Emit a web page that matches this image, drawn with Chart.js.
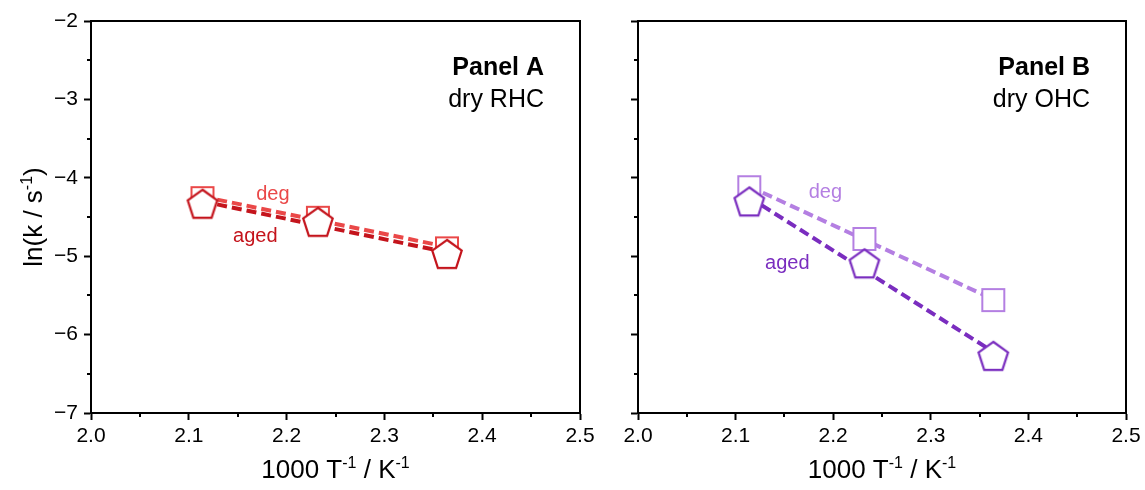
<!DOCTYPE html>
<html>
<head>
<meta charset="utf-8">
<script src="https://cdn.jsdelivr.net/npm/chart.js@4"></script>
<style>
    html, body { margin: 0; padding: 0; background: #fff; }
    #wrap { position: relative; width: 1145px; height: 490px; }
    .panel { position: absolute; top: 0; height: 490px; }
    #panelA { left: 0; width: 600px; }
    #panelB { left: 600px; width: 545px; }
</style>
</head>
<body>
<div id="wrap">
    <div class="panel" id="panelA"><canvas id="chartA"></canvas></div>
    <div class="panel" id="panelB"><canvas id="chartB"></canvas></div>
</div>
<script>
// values
const invTemp = [2.114, 2.232, 2.364];
const rhcDeg = [-4.26, -4.51, -4.90];
const rhcAged = [-4.33, -4.56, -4.97];
const ohcDeg = [-4.12, -4.78, -5.56];
const ohcAged = [-4.30, -5.09, -6.27];

// fitted lines, end points
const fitX = [2.114, 2.364];
const rhcDegFit = [-4.24, -4.88];
const rhcAgedFit = [-4.30, -4.95];
const ohcDegFit = [-4.11, -5.55];
const ohcAgedFit = [-4.25, -6.22];

const xTicks = [2.0, 2.1, 2.2, 2.3, 2.4, 2.5];
const yTicks = [-2, -3, -4, -5, -6, -7];

const FONT = 'Arial, "Liberation Sans", Helvetica, sans-serif';

const colors = {
    rhcDeg: '#ea4848',
    rhcAged: '#c4141c',
    ohcDeg: '#b47fe2',
    ohcAged: '#7a2dbf'
};

// hollow (white filled) marker images
function pentagonMarker(color) {
    const R = 15.5, lw = 2.2;
    const s = Math.ceil(2 * R + lw + 4);
    const c = document.createElement('canvas');
    c.width = s; c.height = s;
    const ctx = c.getContext('2d');
    ctx.translate(s / 2, s / 2 + 1.5);
    ctx.beginPath();
    for (let i = 0; i < 5; i++) {
        const a = (-90 + 72 * i) * Math.PI / 180;
        const px = R * Math.cos(a), py = R * Math.sin(a);
        if (i === 0) ctx.moveTo(px, py); else ctx.lineTo(px, py);
    }
    ctx.closePath();
    ctx.fillStyle = '#fff';
    ctx.fill();
    ctx.lineWidth = lw;
    ctx.lineJoin = 'miter';
    ctx.strokeStyle = color;
    ctx.stroke();
    return c;
}

function squareMarker(color) {
    const side = 22, lw = 2;
    const s = side + lw + 4;
    const c = document.createElement('canvas');
    c.width = s; c.height = s;
    const ctx = c.getContext('2d');
    const o = (s - side) / 2;
    ctx.fillStyle = '#fff';
    ctx.fillRect(o, o, side, side);
    ctx.lineWidth = lw;
    ctx.strokeStyle = color;
    ctx.strokeRect(o, o, side, side);
    return c;
}

function points(xs, ys) {
    return xs.map((x, i) => ({ x: x, y: ys[i] }));
}

function markerSet(ys, color, marker) {
    return {
        data: points(invTemp, ys),
        showLine: false,
        pointStyle: marker,
        pointRadius: 16,
        pointHoverRadius: 16,
        borderColor: color,
        backgroundColor: '#fff'
    };
}

function fitSet(ys, color) {
    return {
        data: points(fitX, ys),
        showLine: true,
        borderColor: color,
        borderWidth: 4,
        borderDash: [10, 5],
        pointRadius: 0,
        pointHoverRadius: 0,
        fill: false
    };
}

// text with superscripts, parts = [[text, isSup], ...]
function drawRichText(ctx, parts, x, y, size) {
    const supSize = Math.round(size * 0.62);
    let total = 0;
    parts.forEach(p => {
        ctx.font = (p[1] ? supSize : size) + 'px ' + FONT;
        total += ctx.measureText(p[0]).width;
    });
    let cx = x - total / 2;
    ctx.textAlign = 'left';
    ctx.textBaseline = 'alphabetic';
    parts.forEach(p => {
        ctx.font = (p[1] ? supSize : size) + 'px ' + FONT;
        ctx.fillText(p[0], cx, p[1] ? y - size * 0.38 : y);
        cx += ctx.measureText(p[0]).width;
    });
}

const decorPlugin = {
    id: 'decor',
    afterDraw(chart, args, opts) {
        const ctx = chart.ctx;
        const area = chart.chartArea;
        const xs = chart.scales.x, ys = chart.scales.y;
        ctx.save();
        ctx.strokeStyle = '#000';
        ctx.lineWidth = 2;
        ctx.strokeRect(area.left, area.top, area.right - area.left, area.bottom - area.top);

        // minor ticks
        ctx.beginPath();
        for (let v = 2.05; v < 2.5; v += 0.1) {
            const px = Math.round(xs.getPixelForValue(v));
            ctx.moveTo(px, area.bottom);
            ctx.lineTo(px, area.bottom + 4);
        }
        for (let v = -2.5; v > -7; v -= 1) {
            const py = Math.round(ys.getPixelForValue(v));
            ctx.moveTo(area.left, py);
            ctx.lineTo(area.left - 4, py);
        }
        ctx.stroke();

        ctx.fillStyle = '#000';
        // x title
        drawRichText(ctx, [['1000 T', false], ['-1', true], [' / K', false], ['-1', true]],
            (area.left + area.right) / 2, 478, 26);
        // y title
        if (opts.yTitle) {
            ctx.save();
            ctx.translate(33, (area.top + area.bottom) / 2);
            ctx.rotate(-Math.PI / 2);
            drawRichText(ctx, [['ln(k / s', false], ['-1', true], [')', false]], 0, 9, 26);
            ctx.restore();
        }

        // panel caption
        ctx.textAlign = 'right';
        ctx.textBaseline = 'alphabetic';
        ctx.font = 'bold 25px ' + FONT;
        ctx.fillText(opts.title, area.right - 36, 75);
        ctx.font = '25px ' + FONT;
        ctx.fillText(opts.subtitle, area.right - 36, 107);

        // series labels
        ctx.textAlign = 'center';
        ctx.textBaseline = 'middle';
        ctx.font = '20px ' + FONT;
        opts.labels.forEach(l => {
            ctx.fillStyle = l.color;
            ctx.fillText(l.text, xs.getPixelForValue(l.x), ys.getPixelForValue(l.y));
        });
        ctx.restore();
    }
};

function makeChart(canvasId, datasets, cfg) {
    return new Chart(document.getElementById(canvasId), {
        type: 'scatter',
        data: { datasets: datasets },
        options: {
            responsive: true,
            maintainAspectRatio: false,
            animation: false,
            layout: { padding: { left: 0, top: 21, right: cfg.padRight, bottom: 0 } },
            plugins: {
                legend: { display: false },
                tooltip: { enabled: false },
                decor: cfg.decor
            },
            scales: {
                x: {
                    type: 'linear',
                    min: 2.0,
                    max: 2.5,
                    afterBuildTicks: s => { s.ticks = xTicks.map(v => ({ value: v })); },
                    afterFit: s => { s.height = 77; },
                    grid: { drawOnChartArea: false, drawTicks: true, tickLength: 7, tickWidth: 2, tickColor: '#000' },
                    border: { display: true, color: '#000', width: 2 },
                    ticks: {
                        color: '#000',
                        padding: 4,
                        maxRotation: 0,
                        font: { family: FONT, size: 21 },
                        callback: v => Number(v).toFixed(1)
                    }
                },
                y: {
                    type: 'linear',
                    min: -7,
                    max: -2,
                    afterBuildTicks: s => { s.ticks = yTicks.map(v => ({ value: v })); },
                    afterFit: s => { s.width = cfg.yWidth; },
                    grid: { drawOnChartArea: false, drawTicks: true, tickLength: 7, tickWidth: 2, tickColor: '#000' },
                    border: { display: true, color: '#000', width: 2 },
                    ticks: {
                        display: cfg.yLabels,
                        color: '#000',
                        padding: 6,
                        font: { family: FONT, size: 21 },
                        callback: v => String(v).replace('-', '\u2212')
                    }
                }
            }
        },
        plugins: [decorPlugin]
    });
}

makeChart('chartA', [
    markerSet(rhcAged, colors.rhcAged, pentagonMarker(colors.rhcAged)),
    markerSet(rhcDeg, colors.rhcDeg, squareMarker(colors.rhcDeg)),
    fitSet(rhcAgedFit, colors.rhcAged),
    fitSet(rhcDegFit, colors.rhcDeg)
], {
    padRight: 20,
    yWidth: 91,
    yLabels: true,
    decor: {
        yTitle: true,
        title: 'Panel A',
        subtitle: 'dry RHC',
        labels: [
            { text: 'deg', x: 2.186, y: -4.21, color: colors.rhcDeg },
            { text: 'aged', x: 2.168, y: -4.75, color: colors.rhcAged }
        ]
    }
});

makeChart('chartB', [
    markerSet(ohcAged, colors.ohcAged, pentagonMarker(colors.ohcAged)),
    markerSet(ohcDeg, colors.ohcDeg, squareMarker(colors.ohcDeg)),
    fitSet(ohcAgedFit, colors.ohcAged),
    fitSet(ohcDegFit, colors.ohcDeg)
], {
    padRight: 19,
    yWidth: 38,
    yLabels: false,
    decor: {
        yTitle: false,
        title: 'Panel B',
        subtitle: 'dry OHC',
        labels: [
            { text: 'deg', x: 2.192, y: -4.19, color: colors.ohcDeg },
            { text: 'aged', x: 2.153, y: -5.09, color: colors.ohcAged }
        ]
    }
});
</script>
</body>
</html>
